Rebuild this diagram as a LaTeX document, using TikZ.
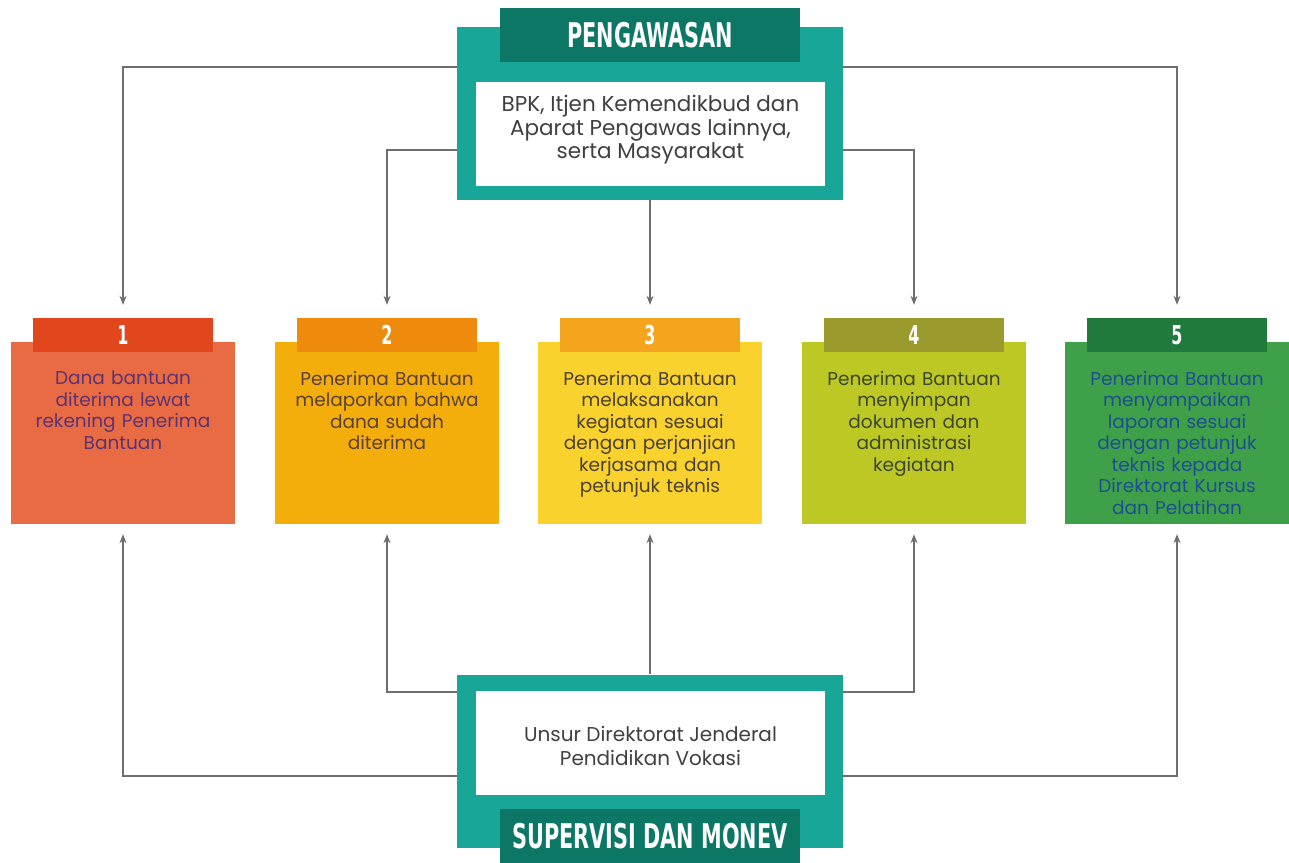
\documentclass[tikz,border=0pt]{standalone}
\usepackage{fontspec}
\setmainfont{Poppins}
\newfontfamily\headfont[FakeStretch=0.68]{DejaVu Sans Condensed Bold}
\usetikzlibrary{arrows.meta}

\definecolor{tealout}{HTML}{17A697}
\definecolor{tealbar}{HTML}{0D7766}
\definecolor{linegray}{HTML}{6E6E6E}
\definecolor{fillA}{HTML}{E96B44}
\definecolor{tabA}{HTML}{E2461D}
\definecolor{txtA}{HTML}{5C3370}
\definecolor{fillB}{HTML}{F4AE0B}
\definecolor{tabB}{HTML}{EE8B0C}
\definecolor{txtB}{HTML}{5A3F3A}
\definecolor{fillC}{HTML}{FAD22E}
\definecolor{tabC}{HTML}{F4A41D}
\definecolor{txtC}{HTML}{4A4034}
\definecolor{fillD}{HTML}{BDC825}
\definecolor{tabD}{HTML}{9A9B2C}
\definecolor{txtD}{HTML}{3C4630}
\definecolor{fillE}{HTML}{3EA048}
\definecolor{tabE}{HTML}{1F7A3C}
\definecolor{txtE}{HTML}{1E4F92}

\tikzset{
  outerbox/.style={fill=tealout, minimum width=386pt, minimum height=173pt, inner sep=0pt},
  titlebar/.style={fill=tealbar, text=white, minimum width=300pt, minimum height=54pt,
    inner sep=0pt, font=\headfont\fontsize{34}{34}\selectfont},
  whitebox/.style={fill=white, minimum width=349pt, minimum height=104pt, inner sep=0pt},
  boxtext/.style={align=center, text=black!75, inner sep=0pt},
  stepbox/.style={minimum width=224pt, minimum height=182pt, inner sep=0pt},
  steptab/.style={text=white, minimum width=180pt, minimum height=34pt, inner sep=0pt,
    font=\headfont\fontsize{26}{26}\selectfont},
  steptext/.style={text width=220pt, align=center, inner sep=0pt,
    font=\fontsize{18.5}{21.5}\selectfont},
  conn/.style={draw=linegray, line width=1.2pt, -{Stealth[length=9pt,width=7pt]}}
}

\begin{document}
\begin{tikzpicture}[x=1pt,y=-1pt]
\useasboundingbox[fill=white] (0,0) rectangle (1289,862);

% supervision from the top
\node[outerbox] (pengOuter) at (650,113.5) {};
\node[titlebar] (pengBar) at (650,35) {PENGAWASAN};
\node[whitebox] (pengBox) at (650.5,134) {};
\node[boxtext, font=\fontsize{21.5}{23.5}\selectfont] (pengText) at (650.5,130) {BPK, Itjen Kemendikbud dan\\Aparat Pengawas lainnya,\\serta Masyarakat};

% monitoring from the bottom
\node[outerbox] (monevOuter) at (650,761) {};
\node[whitebox] (monevBox) at (650.5,743) {};
\node[boxtext, font=\fontsize{20}{24.5}\selectfont] (monevText) at (650.5,746) {Unsur Direktorat Jenderal\\Pendidikan Vokasi};
\node[titlebar] (monevBar) at (650,836) {SUPERVISI DAN MONEV};

% the five steps
\foreach \i/\cx/\col/\txt in {
  1/123/A/{Dana bantuan\\diterima lewat\\rekening Penerima\\Bantuan},
  2/387/B/{Penerima Bantuan\\melaporkan bahwa\\dana sudah\\diterima},
  3/650/C/{Penerima Bantuan\\melaksanakan\\kegiatan sesuai\\dengan perjanjian\\kerjasama dan\\petunjuk teknis},
  4/914/D/{Penerima Bantuan\\menyimpan\\dokumen dan\\administrasi\\kegiatan},
  5/1177/E/{Penerima Bantuan\\menyampaikan\\laporan sesuai\\dengan petunjuk\\teknis kepada\\Direktorat Kursus\\dan Pelatihan}}
{
  \node[stepbox, fill=fill\col] (b\i) at (\cx,433) {};
  \node[steptab, fill=tab\col] (t\i) at (\cx,335) {\i};
  \node[steptext, text=txt\col, anchor=north] (x\i) at (\cx,371) {\txt};
}

% arrows down
\draw[conn] ([yshift=46.5pt]pengOuter.west) -| ([yshift=13pt]t1.north);
\draw[conn] ([yshift=-36.5pt]pengOuter.west) -| ([yshift=13pt]t2.north);
\draw[conn] (pengOuter.south) -- ([yshift=13pt]t3.north);
\draw[conn] ([yshift=-36.5pt]pengOuter.east) -| ([yshift=13pt]t4.north);
\draw[conn] ([yshift=46.5pt]pengOuter.east) -| ([yshift=13pt]t5.north);

% arrows up
\draw[conn] ([yshift=-15pt]monevOuter.west) -| ([yshift=-10pt]b1.south);
\draw[conn] ([yshift=69pt]monevOuter.west) -| ([yshift=-10pt]b2.south);
\draw[conn] (monevOuter.north) -- ([yshift=-10pt]b3.south);
\draw[conn] ([yshift=69pt]monevOuter.east) -| ([yshift=-10pt]b4.south);
\draw[conn] ([yshift=-15pt]monevOuter.east) -| ([yshift=-10pt]b5.south);
\end{tikzpicture}
\end{document}
